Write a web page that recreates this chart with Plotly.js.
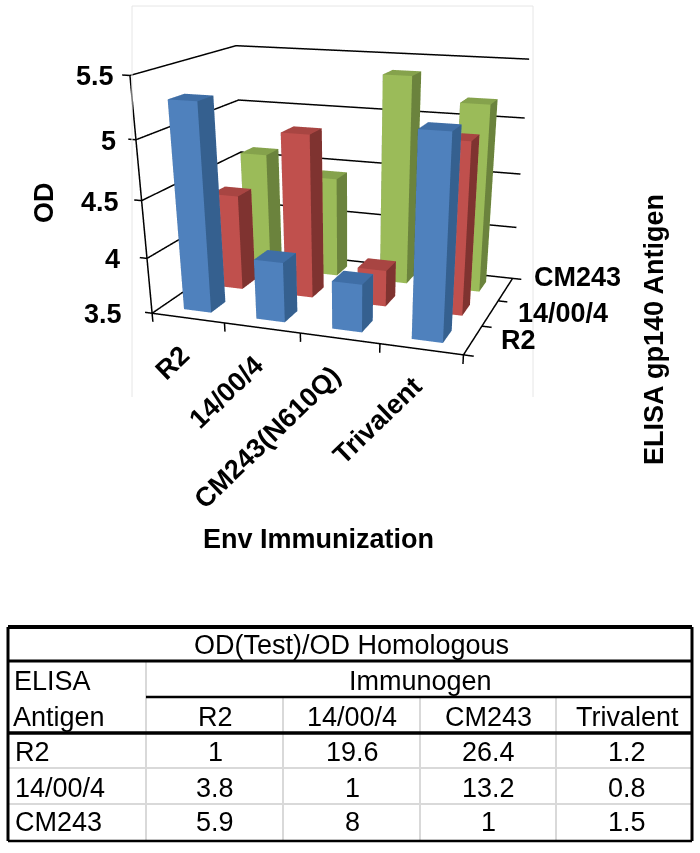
<!DOCTYPE html>
<html>
<head>
<meta charset="utf-8">
<script src="https://cdn.plot.ly/plotly-3.0.1.min.js"></script>
<style>body{margin:0;background:#fff}</style>
</head>
<body>
<div id="chart" style="width:700px;height:853px"></div>
<script>
// valeurs
const immunogens = ['R2', '14/00/4', 'CM243(N610Q)', 'Trivalent'];
const antigens = ['R2', '14/00/4', 'CM243'];
const od_r2 = [5.3, 4.03, 3.92, 5.2];
const od_14 = [4.37, 4.96, 3.83, 5.0];
const od_cm = [4.6, 4.43, 5.38, 5.18];
const od_ticks = [3.5, 4, 4.5, 5, 5.5];

// tableau du bas
const table_title = 'OD(Test)/OD Homologous';
const table_cols = ['R2', '14/00/4', 'CM243', 'Trivalent'];
const table_rows = ['R2', '14/00/4', 'CM243'];
const table_r2 = ['1', '19.6', '26.4', '1.2'];
const table_14 = ['3.8', '1', '13.2', '0.8'];
const table_cm = ['5.9', '8', '1', '1.5'];

// face avant, cote, dessus
const couleurs = [['#4f81bd', '#35608f', '#3f6ea6'], ['#c0504d', '#7f3330', '#a84542'], ['#9bbb59', '#6b833d', '#85a24c']];
const POLICE = '"Liberation Sans", Arial, sans-serif';
const x_lo = 0.5, x_hi = 4.5, y_lo = 0.5, y_hi = 3.5, z_lo = 3.5, z_hi = 5.5;

const traces = [];

// barres
[od_r2, od_14, od_cm].forEach((serie, r) => {
  const xs = [], ys = [], zs = [], I = [], J = [], K = [], fc = [];
  serie.forEach((v, c) => {
    const n = xs.length, x0 = c + 1 - 0.19, x1 = c + 1 + 0.19, y0 = r + 1 - 0.22, y1 = r + 1 + 0.22;
    [[x0, y0, z_lo], [x1, y0, z_lo], [x1, y1, z_lo], [x0, y1, z_lo], [x0, y0, v], [x1, y0, v], [x1, y1, v], [x0, y1, v]]
      .forEach(q => { xs.push(q[0]); ys.push(q[1]); zs.push(q[2]); });
    [[0, 1, 5, 4, 0], [1, 2, 6, 5, 1], [4, 5, 6, 7, 2], [3, 2, 6, 7, 0], [0, 3, 7, 4, 1], [0, 1, 2, 3, 0]].forEach(f => {
      I.push(n + f[0], n + f[0]); J.push(n + f[1], n + f[2]); K.push(n + f[2], n + f[3]);
      fc.push(couleurs[r][f[4]], couleurs[r][f[4]]);
    });
  });
  traces.push({
    type: 'mesh3d', x: xs, y: ys, z: zs, i: I, j: J, k: K, facecolor: fc, flatshading: true,
    hoverinfo: 'skip', showscale: false,
    lighting: { ambient: 1, diffuse: 0, specular: 0, roughness: 1, fresnel: 0 }
  });
});

// grille, bords et graduations
const lx = [], ly = [], lz = [];
function seg(points) {
  points.forEach(q => { lx.push(q[0]); ly.push(q[1]); lz.push(q[2]); });
  lx.push(null); ly.push(null); lz.push(null);
}
od_ticks.forEach(v => {
  seg([[x_lo, y_lo, v], [x_lo, y_hi, v], [x_hi, y_hi, v]]);
  seg([[x_lo, y_lo, v], [x_lo - 0.1, y_lo, v]]);
});
seg([[x_lo, y_lo, z_lo], [x_lo, y_lo, z_hi]]);
seg([[x_lo, y_lo, z_lo], [x_hi, y_lo, z_lo], [x_hi, y_hi, z_lo]]);
for (let i = 0; i <= immunogens.length; i++) seg([[x_lo + i, y_lo, z_lo], [x_lo + i, y_lo, z_lo - 0.08]]);
for (let i = 0; i <= antigens.length; i++) seg([[x_hi, y_lo + i, z_lo], [x_hi + 0.12, y_lo + i, z_lo]]);
traces.push({ type: 'scatter3d', mode: 'lines', x: lx, y: ly, z: lz, line: { color: '#000', width: 3 }, hoverinfo: 'skip' });

// etiquettes des axes
const lab = { showarrow: false, font: { family: POLICE, size: 27, color: '#000', weight: 'bold' } };
const scene_notes = [];
od_ticks.forEach(v => scene_notes.push({
  ...lab, x: x_lo, y: y_lo, z: v, text: String(v), xanchor: 'right', yanchor: 'middle',
  xshift: -28 + 7 * (v - z_lo), yshift: -1
}));
immunogens.forEach((t, i) => scene_notes.push({
  ...lab, x: i + 1, y: y_lo, z: z_lo, text: t, textangle: -44, xanchor: 'right', yanchor: 'top', xshift: 10, yshift: -19
}));
const decal_antigen = [0, 0, 12];
antigens.forEach((t, i) => scene_notes.push({
  ...lab, x: x_hi, y: i + 1, z: z_lo, text: t, xanchor: 'left', yanchor: 'middle', xshift: 26, yshift: decal_antigen[i]
}));

// conversion pixels -> papier pour les titres et le tableau
const px = v => v / 700, py = v => 1 - v / 853;
const titre = { ...lab, xref: 'paper', yref: 'paper', xanchor: 'center', yanchor: 'middle' };
const notes = [
  { ...titre, x: px(318), y: py(539), text: 'Env Immunization' },
  { ...titre, x: px(44), y: py(203), text: 'OD', textangle: -90 },
  { ...titre, x: px(654), y: py(330), text: 'ELISA gp140 Antigen', textangle: -90 }
];

const shapes = [];
function trait(x0, y0, x1, y1, color, width) {
  shapes.push({ type: 'line', xref: 'paper', yref: 'paper', x0: px(x0), y0: py(y0), x1: px(x1), y1: py(y1), line: { color: color, width: width } });
}
function texte(x, y, t, anchor) {
  notes.push({ xref: 'paper', yref: 'paper', x: px(x), y: py(y), text: t, showarrow: false, xanchor: anchor || 'center', yanchor: 'middle',
    font: { family: POLICE, size: 27, color: '#000' } });
}

// cadre gris clair autour du graphique
const GRIS_CADRE = '#e6e6e6';
trait(132, 397, 132, 6, GRIS_CADRE, 1); trait(132, 6, 533, 6, GRIS_CADRE, 1); trait(533, 6, 533, 397, GRIS_CADRE, 1);

// tableau
const col_x = [146, 283, 420, 556], col_c = [215, 352, 488, 627], ligne_y = [752, 788, 822];
const GRIS = '#d9d9d9';
trait(146, 661, 146, 840, GRIS, 2);
col_x.slice(1).forEach(x => trait(x, 697, x, 840, GRIS, 2));
trait(8, 768, 692, 768, GRIS, 2); trait(8, 804, 692, 804, GRIS, 2);
trait(8, 627, 692, 627, '#000', 4); trait(8, 661, 692, 661, '#000', 3);
trait(146, 697, 692, 697, '#000', 2.5); trait(8, 733, 692, 733, '#000', 3.5); trait(8, 841, 692, 841, '#000', 2.5);
trait(8, 627, 8, 841, '#000', 3); trait(692, 627, 692, 841, '#000', 3);
texte(351, 645, table_title);
texte(12, 681, 'ELISA', 'left'); texte(11, 717, 'Antigen', 'left');
texte(420, 681, 'Immunogen');
table_cols.forEach((t, i) => texte(col_c[i], 717, t));
[table_r2, table_14, table_cm].forEach((ligne, r) => {
  texte(13, ligne_y[r], table_rows[r], 'left');
  ligne.forEach((t, c) => texte(col_c[c], ligne_y[r], t));
});

// axes caches, marge symetrique pour laisser depasser les graduations
const pad_x = 0.25, pad_y = 0.25, pad_z = 0.2;
const axe = { visible: false, showspikes: false };
Plotly.newPlot('chart', traces, {
  width: 700, height: 853, margin: { l: 0, r: 0, t: 0, b: 0 }, showlegend: false, paper_bgcolor: '#fff',
  annotations: notes, shapes: shapes,
  scene: {
    domain: { x: [0, 1], y: [0, 1] },
    aspectmode: 'manual',
    aspectratio: { x: 1 * (4 + 2 * pad_x) / 4, y: 0.705 * (3 + 2 * pad_y) / 3, z: 0.713 * (2 + 2 * pad_z) / 2 },
    camera: {
      eye: { x: 1.0908, y: -3.0109, z: 0.7975 }, center: { x: 0.0327, y: 0.0031, z: -0.8366 },
      up: { x: -0.0034, y: -0.0012, z: 1 }, projection: { type: 'perspective' }
    },
    xaxis: { ...axe, range: [x_lo - pad_x, x_hi + pad_x] },
    yaxis: { ...axe, range: [y_lo - pad_y, y_hi + pad_y] },
    zaxis: { ...axe, range: [z_lo - pad_z, z_hi + pad_z] },
    annotations: scene_notes
  }
}, { displayModeBar: false });
</script>
</body>
</html>
